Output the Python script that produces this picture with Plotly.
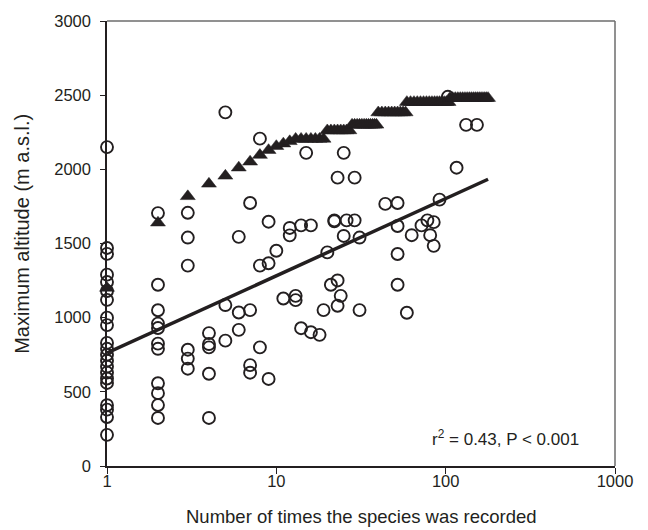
import plotly.graph_objects as go

# Open circles: (number of records, maximum altitude)
circ_x = [1, 1, 1, 1, 1, 1, 1, 1, 1, 1, 1, 1, 1, 1, 1, 1, 1, 1, 1, 1, 1,
          2, 2, 2, 2, 2, 2, 2, 2, 2, 2, 2,
          3, 3, 3, 3, 3, 3,
          4, 4, 4, 4, 4,
          5, 5, 5,
          6, 6, 6,
          7, 7, 7, 7,
          8, 8, 8,
          9, 9, 9,
          10, 11, 12, 12, 13, 13, 14, 14, 15, 16, 16, 18, 19,
          20, 21, 22, 22, 23, 23, 23, 24, 25, 25, 26, 29, 29, 31, 31,
          44, 52, 52, 52, 52, 59, 63, 72, 78, 81, 85, 85, 92,
          103, 116, 132, 153]
circ_y = [2150, 1470, 1430, 1290, 1240, 1180, 1120, 1000, 950, 830, 790, 750, 710, 670, 630, 590, 560, 410, 380, 330, 210,
          1705, 1222, 1050, 960, 930, 825, 790, 558, 491, 411, 324,
          1707, 1540, 1351, 784, 724, 656,
          896, 822, 800, 622, 324,
          2384, 1085, 845,
          1545, 1035, 918,
          1773, 1051, 680, 629,
          2207, 1351, 800,
          1647, 1367, 587,
          1451, 1129, 1605, 1555, 1147, 1118, 1622, 929, 2111, 1622, 902, 884, 1051,
          1440, 1222, 1656, 1650, 1944, 1251, 1080, 1147, 2111, 1551, 1656, 1944, 1656, 1540, 1051,
          1767, 1773, 1618, 1429, 1222, 1033, 1556, 1622, 1656, 1556, 1644, 1484, 1796,
          2489, 2011, 2300, 2300]

# Filled triangles: upper envelope
tri_x = [1, 2, 3, 4, 5, 6, 7, 8, 9, 10, 11, 12,
         13, 14, 15, 16, 17, 18, 19,
         20, 21, 22, 23, 24, 25, 26, 27,
         28, 29, 30, 31, 32, 33, 34, 35, 36, 37, 38, 39,
         40, 42, 44, 46, 48, 50, 52, 54, 56, 58,
         59, 62, 65, 68, 71, 74, 77, 80, 83, 86, 89, 92, 95, 98, 101, 104,
         106, 110, 114, 118, 122, 126, 130, 134, 138, 142, 146, 150, 154, 158, 162, 166, 170, 174, 178]
tri_y = [1200, 1640, 1818, 1902, 1956, 2011, 2051, 2096, 2129, 2156, 2173, 2189,
         2205, 2205, 2205, 2205, 2205, 2205, 2205,
         2262, 2262, 2262, 2262, 2262, 2262, 2262, 2262,
         2300, 2300, 2300, 2300, 2300, 2300, 2300, 2300, 2300, 2300, 2300, 2300,
         2383, 2383, 2383, 2383, 2383, 2383, 2383, 2383, 2383, 2383,
         2453, 2453, 2453, 2453, 2453, 2453, 2453, 2453, 2453, 2453, 2453, 2453, 2453, 2453, 2453, 2453,
         2480, 2480, 2480, 2480, 2480, 2480, 2480, 2480, 2480, 2480, 2480, 2480, 2480, 2480, 2480, 2480, 2480, 2480, 2480]

# Regression line end points
reg_x = [1, 178]
reg_y = [762, 1933]

x_ticks = [1, 10, 100, 1000]
y_ticks = [0, 500, 1000, 1500, 2000, 2500, 3000]

INK = "#231f20"
FONT = "Liberation Sans, Arial, sans-serif"

fig = go.Figure()
fig.add_trace(go.Scatter(x=circ_x, y=circ_y, mode="markers", cliponaxis=False,
                         marker=dict(symbol="circle-open", size=12, color=INK,
                                     line=dict(width=1.9, color=INK)),
                         showlegend=False))
fig.add_trace(go.Scatter(x=reg_x, y=reg_y, mode="lines", cliponaxis=False,
                         line=dict(color=INK, width=3.5), showlegend=False))
fig.add_trace(go.Scatter(x=tri_x, y=tri_y, mode="markers", cliponaxis=False,
                         marker=dict(symbol="triangle-up", size=13, color=INK,
                                     line=dict(width=0.5, color=INK)),
                         showlegend=False))

fig.update_layout(
    width=648, height=530,
    margin=dict(l=107, r=33, t=16, b=64),
    paper_bgcolor="white", plot_bgcolor="white",
    font=dict(family=FONT, size=16, color=INK),
    xaxis=dict(type="log", range=[0, 3], tickvals=x_ticks,
               ticktext=[str(v) for v in x_ticks],
               showgrid=False, zeroline=False, showline=True,
               linecolor=INK, linewidth=1.5, ticks="outside", ticklen=6,
               tickwidth=1.2, tickcolor=INK, ticklabelstandoff=-7,
               tickfont=dict(size=16.5)),
    yaxis=dict(range=[0, 3000], tickvals=y_ticks,
               showgrid=False, zeroline=False, showline=True,
               linecolor=INK, linewidth=1.5, ticks="outside", ticklen=5,
               tickwidth=1.2, tickcolor=INK, ticklabelstandoff=6,
               tickfont=dict(size=16.5)),
    shapes=[
        dict(type="line", xref="paper", yref="paper", x0=0, x1=1, y0=1, y1=1,
             line=dict(color="#6d6d6d", width=1.5)),
        dict(type="line", xref="paper", yref="paper", x0=1, x1=1, y0=0, y1=1,
             line=dict(color="#6d6d6d", width=1.5)),
    ],
    annotations=[
        dict(text="r<sup>2</sup> = 0.43, P < 0.001", xref="paper", yref="paper",
             x=0.933, y=0.064, xanchor="right", yanchor="middle",
             showarrow=False, font=dict(size=17, color=INK)),
        dict(text="Number of times the species was recorded", xref="paper", yref="paper",
             x=0.5, y=-0.113, xanchor="center", yanchor="middle",
             showarrow=False, font=dict(size=18.5, color=INK)),
        dict(text="Maximum altitude (m a.s.l.)", xref="paper", yref="paper",
             x=-0.167, y=0.522, xanchor="center", yanchor="middle", textangle=-90,
             showarrow=False, font=dict(size=20, color=INK)),
    ],
)

fig.write_html("out.html")
